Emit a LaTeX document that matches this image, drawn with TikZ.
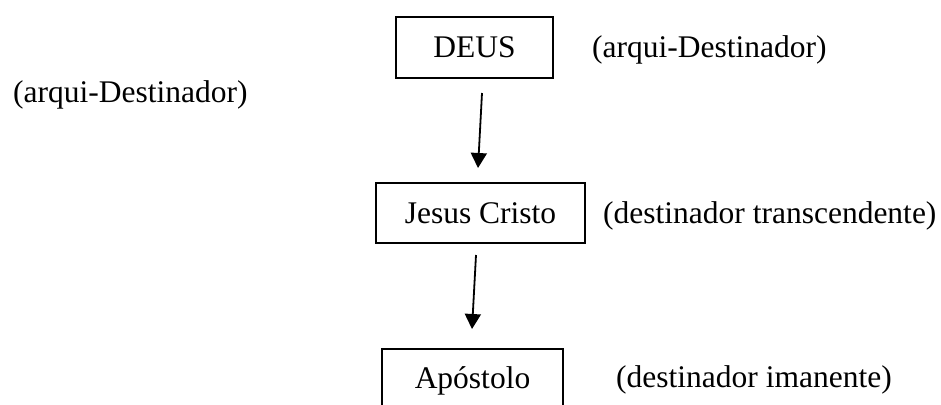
\documentclass[tikz,border=0pt]{standalone}
\usepackage{fontspec}
\setmainfont{Liberation Serif}
\usetikzlibrary{arrows.meta}
\begin{document}
\begin{tikzpicture}[x=1pt,y=-1pt,
  every node/.style={font=\fontsize{31.5}{38}\selectfont},
  frame/.style={draw,line width=1.6pt,anchor=base,inner xsep=0pt,inner ysep=0pt},
  note/.style={anchor=base west,inner sep=0pt},
  link/.style={line width=1.8pt,-{Triangle[length=15pt,width=16pt]}}]
  \useasboundingbox (0,0) rectangle (941,404);
  \clip (0,0) rectangle (941,404);

  % boxes: baseline position, height above/below the baseline
  \node[frame,minimum width=157pt,text height=40pt,text depth=21pt] (deus) at (474.5,57) {DEUS};
  \node[frame,minimum width=209pt,text height=40pt,text depth=20pt] (jesus) at (480.5,223) {Jesus Cristo};
  \node[frame,minimum width=181pt,text height=39pt,text depth=30pt] (apostolo) at (472.5,388) {Apóstolo};

  % side notes
  \node[note] (n1) at (592,57) {(arqui-Destinador)};
  \node[note] (n2) at (13,102) {(arqui-Destinador)};
  \node[note] (n3) at (603,223) {(destinador transcendente)};
  \node[note] (n4) at (616,387) {(destinador imanente)};

  % arrows between the levels
  \coordinate (a1s) at (482,93);
  \coordinate (a1e) at (478,168);
  \coordinate (a2s) at (476,255);
  \coordinate (a2e) at (472,329);
  \draw[link] (a1s) -- (a1e);
  \draw[link] (a2s) -- (a2e);
\end{tikzpicture}
\end{document}
